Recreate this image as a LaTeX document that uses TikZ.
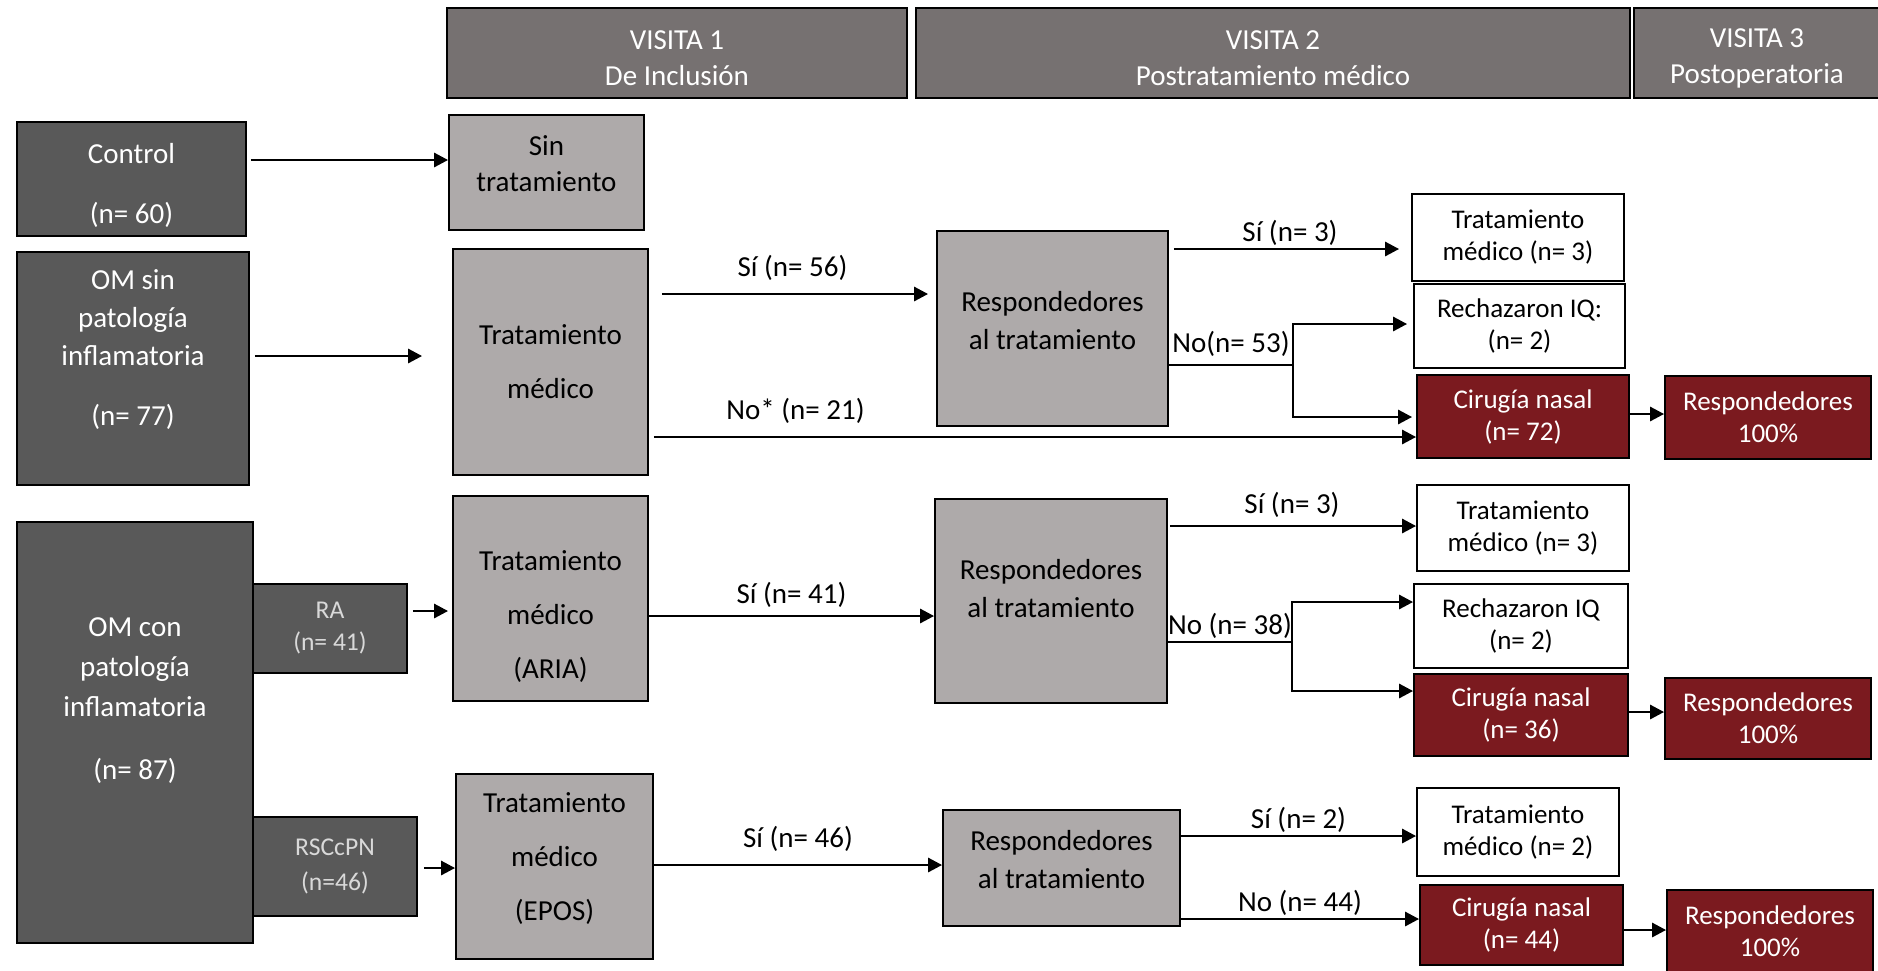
\documentclass[tikz,border=0pt]{standalone}
\usepackage{fontspec}
\setmainfont{Carlito}
\usetikzlibrary{arrows.meta}
\definecolor{chead}{HTML}{767171}
\definecolor{cdark}{HTML}{595959}
\definecolor{clight}{HTML}{AEAAAA}
\definecolor{cred}{HTML}{7B1A1F}
\begin{document}
\begin{tikzpicture}[x=0.5pt,y=-0.5pt,
    box/.style={draw=black,line width=0.9pt,align=center,inner sep=2pt},
    hdr/.style={box,fill=chead,text=white,font=\fontsize{14.5}{18}\selectfont},
    darkbox/.style={box,fill=cdark,text=white,font=\fontsize{14.5}{18}\selectfont},
    smallbox/.style={box,fill=cdark,text=white!85!black,font=\fontsize{12.8}{16}\selectfont},
    greybox/.style={box,fill=clight,text=black,font=\fontsize{14.5}{18}\selectfont},
    whitebox/.style={box,fill=white,font=\fontsize{13.5}{16}\selectfont},
    redbox/.style={box,fill=cred,text=white,font=\fontsize{13.5}{16}\selectfont},
    arr/.style={line width=1.4pt,-{Triangle[length=7pt,width=7pt]}},
    lbl/.style={font=\fontsize{14.5}{18}\selectfont,inner sep=1pt,above}]

        \useasboundingbox (0,0) rectangle (1878,970);

        \node[hdr,minimum width=230pt,minimum height=45pt] (v1) at (677,53) {\strut\\[-16pt]VISITA 1\\De Inclusión};
        \node[hdr,minimum width=357pt,minimum height=45pt] (v2) at (1273,53) {\strut\\[-16pt]VISITA 2\\Postratamiento médico};
        \node[hdr,minimum width=123pt,minimum height=45pt] (v3) at (1757,53) {\strut\\[-16pt]VISITA 3\\Postoperatoria};

        \node[darkbox,minimum width=114.5pt,minimum height=57pt] (ctrl) at (131.5,179) {\strut\\[-14pt]Control\\[12pt](n= 60)};
        \node[darkbox,minimum width=116pt,minimum height=116.5pt] (omsin) at (133,368.5) {OM sin\\[1pt]patología\\[1pt]inflamatoria\\[12pt](n= 77)\\[-2pt]\strut};
        \node[darkbox,minimum width=118pt,minimum height=210.5pt] (omcon) at (135,732.5) {OM con\\[2pt]patología\\[2pt]inflamatoria\\[13.5pt](n= 87)\\[11pt]\strut};
        \node[smallbox,minimum width=77pt,minimum height=44.5pt] (ra) at (330,628.5) {RA\\(n= 41)};
        \node[smallbox,minimum width=82pt,minimum height=49.5pt] (rsc) at (335,866.5) {RSCcPN\\[1.5pt](n=46)};

        \node[greybox,minimum width=97.5pt,minimum height=57.5pt] (sin) at (546.5,172.5) {Sin\\tratamiento\\[-14.4pt]\strut};
        \node[greybox,minimum width=97.5pt,minimum height=113pt] (trat) at (550.5,362) {Tratamiento\\[9pt]médico};
        \node[greybox,minimum width=97.5pt,minimum height=102.5pt] (aria) at (550.5,598.5) {\strut\\[-2.5pt]Tratamiento\\[9pt]médico\\[9pt](ARIA)};
        \node[greybox,minimum width=98.5pt,minimum height=92.5pt] (epos) at (554.5,866.5) {Tratamiento\\[9pt]médico\\[9pt](EPOS)\\[-13pt]\strut};

        \node[greybox,minimum width=115.5pt,minimum height=97.5pt] (resp1) at (1052.5,328.5) {Respondedores\\[1pt]al tratamiento\\[-15pt]\strut};
        \node[greybox,minimum width=116pt,minimum height=102pt] (resp2) at (1051,601) {Respondedores\\[1pt]al tratamiento\\[-11pt]\strut};
        \node[greybox,minimum width=118.5pt,minimum height=58pt] (resp3) at (1061.5,868) {Respondedores\\[1pt]al tratamiento\\[-15pt]\strut};

        \node[whitebox,minimum width=106pt,minimum height=43.5pt] (tm1) at (1518,237.5) {Tratamiento\\médico (n= 3)};
        \node[whitebox,minimum width=105.5pt,minimum height=42pt] (rq1) at (1519.5,326) {Rechazaron IQ:\\(n= 2)};
        \node[whitebox,minimum width=106pt,minimum height=43pt] (tm2) at (1523,528) {Tratamiento\\médico (n= 3)};
        \node[whitebox,minimum width=107pt,minimum height=42pt] (rq2) at (1521,626) {Rechazaron IQ\\(n= 2)};
        \node[whitebox,minimum width=101pt,minimum height=44pt] (tm3) at (1518,832) {Tratamiento\\médico (n= 2)};

        \node[redbox,minimum width=106pt,minimum height=41.5pt] (cir1) at (1523,416.5) {Cirugía nasal\\(n= 72)};
        \node[redbox,minimum width=103pt,minimum height=41.5pt] (ok1) at (1768,417.5) {Respondedores\\100\%};
        \node[redbox,minimum width=107pt,minimum height=41pt] (cir2) at (1521,715) {Cirugía nasal\\(n= 36)};
        \node[redbox,minimum width=103pt,minimum height=40.5pt] (ok2) at (1768,718.5) {Respondedores\\100\%};
        \node[redbox,minimum width=101.5pt,minimum height=40pt] (cir3) at (1521.5,925) {Cirugía nasal\\(n= 44)};
        \node[redbox,minimum width=103pt,minimum height=41pt] (ok3) at (1770,931) {Respondedores\\100\%};

        \draw[arr,shorten <=2pt] (ctrl.east |- 0,160) -- (sin.west |- 0,160);
        \draw[arr,shorten <=2.5pt,shorten >=15pt] (omsin.east |- 0,356) -- (trat.west |- 0,356);
        \draw[arr,shorten <=6.5pt,shorten >=4pt] (trat.east |- 0,294) -- node[lbl,yshift=5pt]{Sí (n= 56)} (resp1.west |- 0,294);
        \draw[arr,shorten <=2.5pt] (trat.east |- 0,437) -- node[lbl,yshift=5pt,pos=0.191]{No* (n= 21)} (cir1.west |- 0,437);

        \draw[arr,shorten <=2.5pt,shorten >=6pt] (resp1.east |- 0,249) -- node[lbl]{Sí (n= 3)} (tm1.west |- 0,249);
        \coordinate (j1) at (1293,365);
        \draw[line width=1.4pt] (resp1.east |- j1) -- node[lbl,yshift=2.5pt]{No(n= 53)} (j1);
        \draw[arr,shorten >=3pt] (j1) |- (rq1.west |- 0,324);
        \draw[arr,shorten >=2pt] (j1) |- (cir1.west |- 0,417);
        \draw[arr] (cir1.east |- 0,414) -- (ok1.west |- 0,414);

        \draw[arr,shorten <=2.5pt,shorten >=2pt] (ra.east |- 0,611) -- (aria.west |- 0,611);
        \draw[arr] (aria.east |- 0,616) -- node[lbl,yshift=2.5pt]{Sí (n= 41)} (resp2.west |- 0,616);
        \draw[arr,shorten <=1pt] (resp2.east |- 0,526) -- node[lbl,yshift=2.5pt]{Sí (n= 3)} (tm2.west |- 0,526);
        \coordinate (j2) at (1292,642);
        \draw[line width=1.4pt] (resp2.east |- j2) -- node[lbl]{No (n= 38)} (j2);
        \draw[arr] (j2) |- (rq2.west |- 0,602);
        \draw[arr] (j2) |- (cir2.west |- 0,691);
        \draw[arr] (cir2.east |- 0,712) -- (ok2.west |- 0,712);

        \draw[arr,shorten <=3pt] (rsc.east |- 0,868) -- (epos.west |- 0,868);
        \draw[arr] (epos.east |- 0,865) -- node[lbl,yshift=5pt]{Sí (n= 46)} (resp3.west |- 0,865);
        \draw[arr] (resp3.east |- 0,836) -- node[lbl]{Sí (n= 2)} (tm3.west |- 0,836);
        \draw[arr] (resp3.east |- 0,919) -- node[lbl]{No (n= 44)} (cir3.west |- 0,919);
        \draw[arr] (cir3.east |- 0,930) -- (ok3.west |- 0,930);

    \end{tikzpicture}
\end{document}
